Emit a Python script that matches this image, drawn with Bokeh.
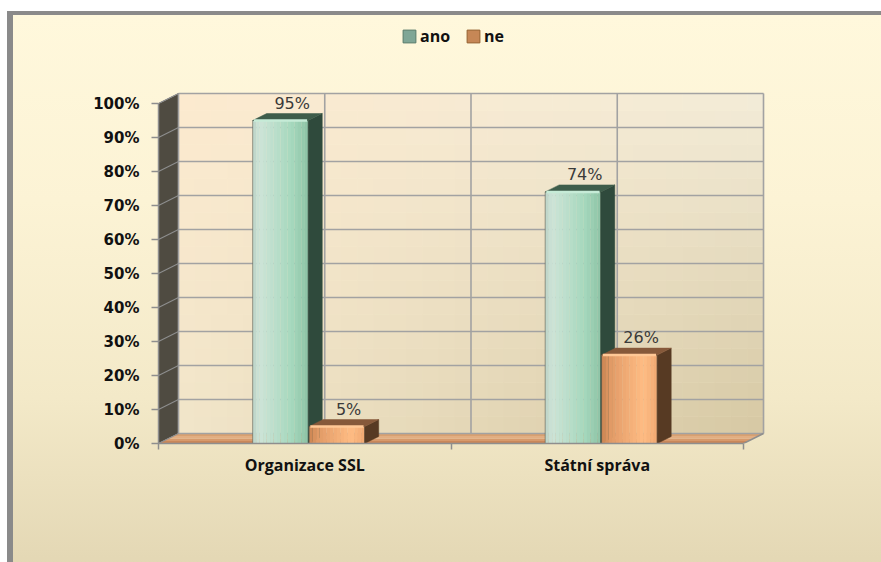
import numpy as np
from bokeh.plotting import figure
from bokeh.models import Range1d, FixedTicker, NumeralTickFormatter, Legend, LegendItem
from bokeh.core.properties import value
from bokeh.embed import file_html
from bokeh.resources import INLINE

# ---------------- data ----------------
categories = ["Organizace SSL", "Státní správa"]
series_names = ["ano", "ne"]
ano_values = [0.95, 0.74]
ne_values = [0.05, 0.26]
y_ticks = [0.0, 0.1, 0.2, 0.3, 0.4, 0.5, 0.6, 0.7, 0.8, 0.9, 1.0]

# ---------------- layout / style ----------------
W, H = 881, 562
FRAME_LEFT = 158
FRAME_RIGHT_BORDER = 30
FRAME_BOTTOM = 443
FRAME_TOP = 16
PX_PER_CAT = 292.5
PX_PER_UNIT = 340.0
x_end = (W - FRAME_RIGHT_BORDER - FRAME_LEFT) / PX_PER_CAT
y_end = (FRAME_BOTTOM - FRAME_TOP) / PX_PER_UNIT

WALL_DX = 20 / PX_PER_CAT
WALL_DY = 10 / PX_PER_UNIT
BAR_DX = 14 / PX_PER_CAT
BAR_DY = 7 / PX_PER_UNIT
BAR_W = 0.19
BAR_OFF = {"ano": 0.322, "ne": 0.515}
LABEL_DX = 0.04
LABEL_DY = 8 / PX_PER_UNIT

FRONT_STOPS = {
    "ano": [(0.0, "#BCD3C6"), (0.12, "#CDE4D8"), (0.7, "#A6D8BD"), (1.0, "#8DC3A6")],
    "ne": [(0.0, "#CC8452"), (0.15, "#E19A66"), (0.75, "#FFBC84"), (1.0, "#F0A972")],
}
SIDE_COLOR = {"ano": "#2F4A3C", "ne": "#573A23"}
TOP_COLOR = {"ano": "#3E5D4B", "ne": "#86593A"}
HILITE = {"ano": "#C6EBD7", "ne": "#FFC896"}
LEGEND_COLOR = {"ano": "#7FA696", "ne": "#C68756"}
LEGEND_LINE = {"ano": "#587A6B", "ne": "#94602F"}

GRID_COLOR = "#A2A2A2"
AXIS_COLOR = "#8E8E8E"


def hex2rgb(h):
    h = h.lstrip("#")
    return np.array([int(h[i:i + 2], 16) for i in (0, 2, 4)], dtype=float)


def rgb2hex(c):
    c = np.clip(np.round(c), 0, 255).astype(int)
    return "#%02X%02X%02X" % tuple(c)


def stop_color(stops, t):
    for (t0, c0), (t1, c1) in zip(stops[:-1], stops[1:]):
        if t <= t1:
            f = 0 if t1 == t0 else (t - t0) / (t1 - t0)
            return rgb2hex(hex2rgb(c0) * (1 - f) + hex2rgb(c1) * f)
    return stops[-1][1]


bg_css = (
    "linear-gradient(180deg, #FFF8DC 0%, #FCF3D5 30%, #F3E9C8 62%, #DDD0AC 100%) "
    "13px 15px / 110% 110% no-repeat, "
    "linear-gradient(#8A8A8A, #8A8A8A) 7px 11px / 6px 110% no-repeat, "
    "linear-gradient(#8A8A8A, #8A8A8A) 7px 11px / 110% 4px no-repeat, "
    "#FFFFFF"
)

p = figure(
    width=W, height=H,
    x_range=Range1d(0, x_end), y_range=Range1d(0, y_end),
    output_backend="svg", toolbar_location=None,
    min_border_left=FRAME_LEFT, min_border_right=FRAME_RIGHT_BORDER,
    min_border_top=FRAME_TOP, min_border_bottom=H - FRAME_BOTTOM,
    border_fill_alpha=0, background_fill_alpha=0, outline_line_color=None,
    styles={"background": bg_css},
)
p.xgrid.visible = False
p.ygrid.visible = False

n = len(categories)
y_top = y_ticks[-1]

# back wall (diagonal gradient)
TL, TR, BL, BR = map(hex2rgb, ["#FCEACF", "#F3ECD8", "#F1E5C9", "#D6C8A3"])
nx, ny = 36, 20
L, R, B, T = [], [], [], []
cols = []
for i in range(nx):
    for j in range(ny):
        u = (i + 0.5) / nx
        v = (j + 0.5) / ny
        c = (TL * (1 - u) * v + TR * u * v + BL * (1 - u) * (1 - v) + BR * u * (1 - v))
        L.append(WALL_DX + n * i / nx)
        R.append(WALL_DX + n * (i + 1) / nx + 0.002)
        B.append(WALL_DY + y_top * j / ny)
        T.append(WALL_DY + y_top * (j + 1) / ny + 0.001)
        cols.append(rgb2hex(c))
p.quad(left=L, right=R, bottom=B, top=T, fill_color=cols, line_color=None)

# left wall
p.patch([0, WALL_DX, WALL_DX, 0], [0, WALL_DY, y_top + WALL_DY, y_top],
        fill_color="#4F4B41", line_color=AXIS_COLOR, line_width=1)

# floor
floor_cols = ["#C9875A", "#D79A6C", "#E2AE82", "#D8A070"]
nf = len(floor_cols)
fxs, fys = [], []
for k in range(nf):
    a = k / nf
    b = (k + 1) / nf
    fxs.append([WALL_DX * a, n + WALL_DX * a, n + WALL_DX * b, WALL_DX * b])
    fys.append([WALL_DY * a, WALL_DY * a, WALL_DY * b, WALL_DY * b])
p.patches(fxs, fys, fill_color=floor_cols, line_color=None)

# grid lines
p.segment(x0=[WALL_DX] * len(y_ticks), y0=[t + WALL_DY for t in y_ticks],
          x1=[n + WALL_DX] * len(y_ticks), y1=[t + WALL_DY for t in y_ticks],
          line_color=GRID_COLOR, line_width=1.6)
xg = list(np.arange(0, n + 0.01, 0.5))
p.segment(x0=[x + WALL_DX for x in xg], y0=[WALL_DY] * len(xg),
          x1=[x + WALL_DX for x in xg], y1=[y_top + WALL_DY] * len(xg),
          line_color=GRID_COLOR, line_width=1.6)
p.segment(x0=[0] * len(y_ticks), y0=y_ticks,
          x1=[WALL_DX] * len(y_ticks), y1=[t + WALL_DY for t in y_ticks],
          line_color=AXIS_COLOR, line_width=1.2)
p.segment(x0=[n], y0=[0], x1=[n + WALL_DX], y1=[WALL_DY], line_color=AXIS_COLOR, line_width=1.5)

# bars
values = {"ano": ano_values, "ne": ne_values}
lab_x, lab_y, lab_t = [], [], []
NSTRIP = 16
for c in range(n):
    for s in series_names:
        v = values[s][c]
        x0 = c + BAR_OFF[s]
        x1 = x0 + BAR_W
        sl, sr, sc = [], [], []
        for k in range(NSTRIP):
            sl.append(x0 + BAR_W * k / NSTRIP)
            sr.append(x0 + BAR_W * (k + 1) / NSTRIP + 0.0005)
            sc.append(stop_color(FRONT_STOPS[s], (k + 0.5) / NSTRIP))
        p.quad(left=sl, right=sr, bottom=[0] * NSTRIP, top=[v] * NSTRIP,
               fill_color=sc, line_color=None)
        p.quad(left=[x0], right=[x1], bottom=[0], top=[v], fill_color=None,
               line_color="#5B5B50", line_alpha=0.6, line_width=1)
        p.patch([x1, x1 + BAR_DX, x1 + BAR_DX, x1], [0, BAR_DY, v + BAR_DY, v],
                fill_color=SIDE_COLOR[s], line_color=SIDE_COLOR[s], line_width=0.5)
        p.patch([x0, x1, x1 + BAR_DX, x0 + BAR_DX], [v, v, v + BAR_DY, v + BAR_DY],
                fill_color=TOP_COLOR[s], line_color=TOP_COLOR[s], line_width=0.5)
        p.segment(x0=[x0 + 0.004], y0=[v], x1=[x1 - 0.004], y1=[v],
                  line_color=HILITE[s], line_width=2.5)
        lab_x.append(x0 + BAR_W / 2 + LABEL_DX)
        lab_y.append(v + BAR_DY + LABEL_DY - 7 / PX_PER_UNIT)
        lab_t.append(f"{round(v * 100)}%")

p.text(x=lab_x, y=lab_y, text=lab_t, text_align="center", text_baseline="bottom",
       text_font=value("DejaVu Sans"), text_font_size="16px", text_color="#3A3A3A")

# axes
yax = p.yaxis[0]
yax.bounds = (0, y_top)
yax.ticker = FixedTicker(ticks=y_ticks)
yax.formatter = NumeralTickFormatter(format="0%")
yax.major_tick_out = 7
yax.major_tick_in = 0
yax.minor_tick_out = 0
yax.minor_tick_in = 0
yax.major_label_standoff = 12
yax.axis_line_color = AXIS_COLOR
yax.axis_line_width = 1.5
yax.major_tick_line_color = AXIS_COLOR
yax.major_tick_line_width = 1.5
yax.major_label_text_font = "DejaVu Sans"
yax.major_label_text_font_style = "bold"
yax.major_label_text_font_size = "15px"
yax.major_label_text_color = "#111111"

xax = p.xaxis[0]
xax.bounds = (0, n)
xax.ticker = FixedTicker(ticks=[c + 0.5 for c in range(n)], minor_ticks=list(range(n + 1)))
xax.major_label_overrides = {c + 0.5: categories[c] for c in range(n)}
xax.major_tick_out = 0
xax.major_tick_in = 0
xax.minor_tick_out = 6
xax.minor_tick_in = 0
xax.minor_tick_line_color = AXIS_COLOR
xax.minor_tick_line_width = 1.5
xax.axis_line_color = AXIS_COLOR
xax.axis_line_width = 1.5
xax.major_label_standoff = 4
xax.major_label_text_font = "Open Sans"
xax.major_label_text_font_style = "bold"
xax.major_label_text_font_size = "16px"
xax.major_label_text_color = "#111111"

# legend
items = []
for s in series_names:
    r = p.quad(left=[np.nan], right=[np.nan], bottom=[np.nan], top=[np.nan],
               fill_color=LEGEND_COLOR[s], line_color=LEGEND_LINE[s], line_width=1)
    items.append(LegendItem(label=s, renderers=[r]))
legend = Legend(items=items, orientation="horizontal", location=(243, 396),
                glyph_width=16, glyph_height=16, label_height=16,
                label_standoff=3, spacing=15, padding=0, margin=0,
                background_fill_alpha=0, border_line_color=None,
                label_text_font="Open Sans", label_text_font_style="bold",
                label_text_font_size="16px", label_text_color="#111111")
p.add_layout(legend)

open("out.html", "w").write(file_html(p, INLINE))
